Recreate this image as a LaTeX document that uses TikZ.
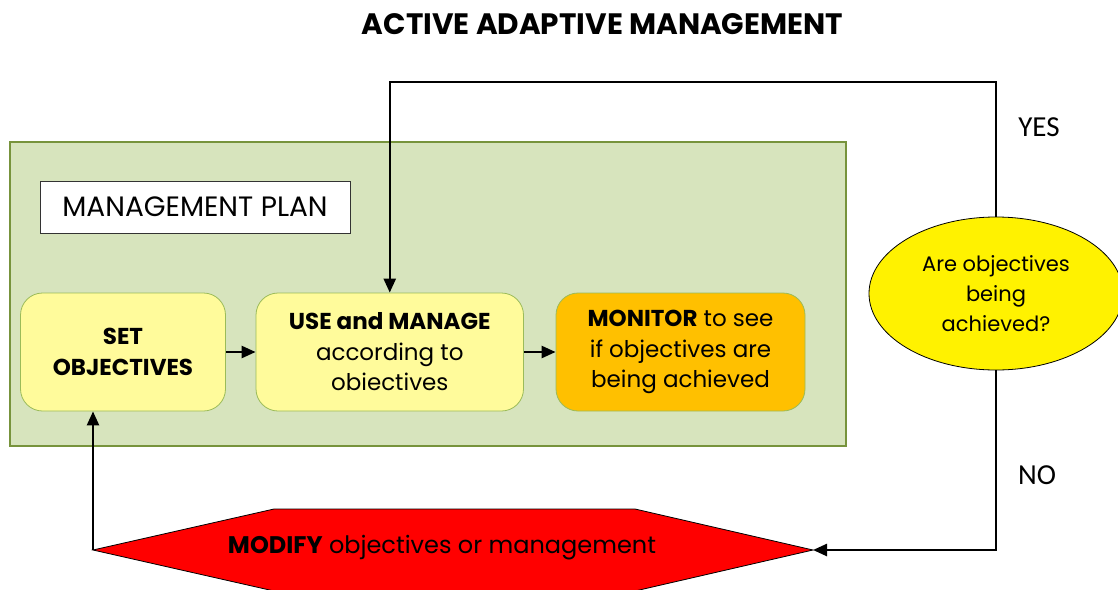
\documentclass[tikz,border=0pt]{standalone}
\usepackage{fontspec}
\setmainfont{Poppins}
\newfontfamily\yesno{Carlito}
\usetikzlibrary{arrows.meta,shapes.geometric}
\definecolor{plangreen}{HTML}{D7E4BD}
\definecolor{planedge}{HTML}{77933C}
\definecolor{boxyellow}{HTML}{FFFB9B}
\definecolor{boxedge}{HTML}{9BBB59}
\definecolor{monorange}{HTML}{FFC000}
\begin{document}
\begin{tikzpicture}[x=1pt,y=-1pt,
  conn/.style={line width=2.5pt,draw=black},
  arr/.style={conn,-{Triangle[length=14pt,width=12pt]}},
  stepbox/.style={draw=boxedge,line width=0.8pt,rounded corners=22pt,minimum height=118pt,align=center,inner sep=2pt,font=\fontsize{23}{30.5}\selectfont},
  lbl/.style={font=\yesno\fontsize{29}{30}\selectfont,anchor=center}
]
\useasboundingbox (0,0) rectangle (1118,589);
\node[font=\bfseries\fontsize{29.5}{30}\selectfont] (title) at (602.5,24) {ACTIVE ADAPTIVE MANAGEMENT};
\node[draw=planedge,fill=plangreen,line width=2.5pt,minimum width=836pt,minimum height=304pt,inner sep=0pt] (plan) at (428,294) {};
\node[draw=black!80,fill=white,line width=0.8pt,minimum width=310pt,minimum height=52pt,inner sep=0pt,font=\fontsize{28}{30}\selectfont] (mp) at (195,207) {MANAGEMENT PLAN};
\node[stepbox,fill=boxyellow,minimum width=205pt] (set) at (123,352) {\textbf{SET}\\\textbf{OBJECTIVES}};
\node[stepbox,fill=boxyellow,minimum width=267.5pt] (use) at (389.75,352) {\textbf{USE and MANAGE}\\according to\\obiectives};
\node[stepbox,fill=monorange,minimum width=249pt] (mon) at (680.5,352) {\textbf{MONITOR} to see\\if objectives are\\being achieved};
\node[ellipse,draw=black,fill=yellow,line width=0.8pt,minimum width=254pt,minimum height=153pt,inner sep=0pt,align=center,font=\fontsize{21}{30}\selectfont] (ell) at (996,293.5) {Are objectives\\being\\achieved?};
\coordinate (hexL) at (93,550);
\coordinate (hexR) at (813,550);
\filldraw[fill=red,draw=black,line width=0.8pt] (hexL) -- (274,509) -- (635,509) -- (hexR) -- (635,591) -- (274,591) -- cycle;
\node[font=\fontsize{24}{30}\selectfont] (mod) at (442,548) {\textbf{MODIFY} objectives or management};
\node[lbl] (yes) at (1039,127) {YES};
\node[lbl] (no) at (1037,475) {NO};
\draw[arr] (set.east) -- (use.west);
\draw[arr] (use.east) -- (mon.west);
\draw[arr] (ell.north) |- (use.north |- 0,82) -- (use.north);
\draw[arr] (ell.south) |- (hexR);
\draw[arr] (hexL) -- (hexL |- set.south);
\end{tikzpicture}
\end{document}
